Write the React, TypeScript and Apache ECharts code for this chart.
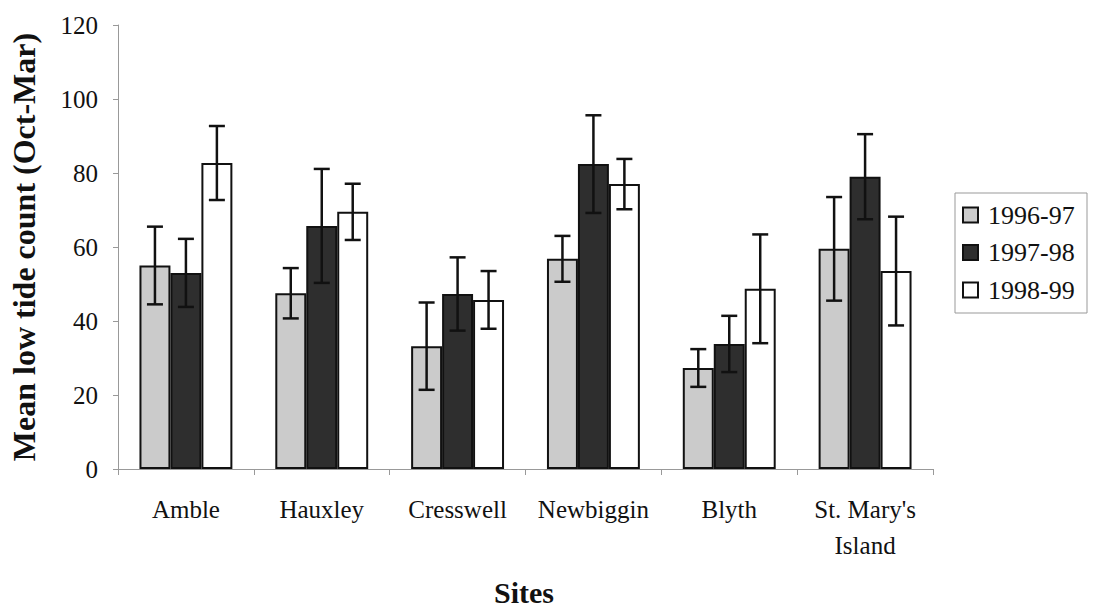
import React, { useEffect, useRef } from "react";
import * as echarts from "echarts";

const sites = ["Amble", "Hauxley", "Cresswell", "Newbiggin", "Blyth", "St. Mary's\nIsland"];
const seriesNames = ["1996-97", "1997-98", "1998-99"];
const mean9697 = [55, 47.5, 33.2, 56.8, 27.3, 59.5];
const err9697 = [10.5, 6.8, 11.8, 6.2, 5.1, 14];
const mean9798 = [53, 65.7, 47.3, 82.4, 33.8, 79];
const err9798 = [9.2, 15.4, 9.9, 13.2, 7.6, 11.5];
const mean9899 = [82.7, 69.5, 45.7, 77, 48.7, 53.5];
const err9899 = [10, 7.6, 7.8, 6.8, 14.7, 14.7];
const yTicks = { min: 0, max: 120, interval: 20 };

const FONT = '"Liberation Serif", "Times New Roman", serif';
const colors = ["#cbcbcb", "#2e2e2e", "#ffffff"];
const CAT_GAP = 0.316;

export default function App() {
  const ref = useRef<HTMLDivElement>(null);
  useEffect(() => {
    if (!ref.current) return;
    const chart = echarts.init(ref.current, undefined, { renderer: "svg" });
    const means = [mean9697, mean9798, mean9899];
    const errs = [err9697, err9798, err9899];

    const barSeries = seriesNames.map((name, s) => ({
      name,
      type: "bar",
      data: means[s],
      barGap: "0%",
      barCategoryGap: "31.6%",
      itemStyle: { color: colors[s], borderColor: "#111", borderWidth: 2 },
      emphasis: { disabled: true },
      z: 2,
    }));

    const errSeries = seriesNames.map((name, s) => ({
      name: name + " err",
      type: "custom",
      z: 5,
      data: means[s].map((m, i) => [i, m - errs[s][i], m + errs[s][i]]),
      encode: { x: 0, y: [1, 2] },
      renderItem: (params: any, api: any) => {
        const idx = api.value(0);
        const lo = api.coord([idx, api.value(1)]);
        const hi = api.coord([idx, api.value(2)]);
        const band = api.size([1, 0])[0];
        const barW = (band * (1 - CAT_GAP)) / 3;
        const x = lo[0] + (s - 1) * barW;
        const cap = 8;
        const style = { stroke: "#111", lineWidth: 2.5 };
        return {
          type: "group",
          children: [
            { type: "line", shape: { x1: x, y1: hi[1], x2: x, y2: lo[1] }, style },
            { type: "line", shape: { x1: x - cap, y1: hi[1], x2: x + cap, y2: hi[1] }, style },
            { type: "line", shape: { x1: x - cap, y1: lo[1], x2: x + cap, y2: lo[1] }, style },
          ],
        };
      },
    }));

    // legend drawn as graphic so the serif font is honoured
    const legendItems: any[] = [];
    seriesNames.forEach((name, s) => {
      const cy = 22 + s * 37.5;
      legendItems.push({
        type: "rect",
        shape: { x: 8, y: cy - 7.5, width: 15, height: 15 },
        style: { fill: colors[s], stroke: "#111", lineWidth: 2 },
      });
      legendItems.push({
        type: "text",
        x: 33,
        y: cy,
        style: {
          text: name,
          font: `26px ${FONT}`,
          fill: "#111",
          textAlign: "left",
          textVerticalAlign: "middle",
        },
      });
    });

    chart.setOption({
      animation: false,
      backgroundColor: "#ffffff",
      textStyle: { fontFamily: FONT },
      grid: { left: 118, right: 161, top: 25, bottom: 141, containLabel: false },
      xAxis: {
        type: "category",
        data: sites,
        axisLine: { lineStyle: { color: "#999", width: 1 } },
        axisTick: { show: true, length: 6, lineStyle: { color: "#999" } },
        axisLabel: {
          fontFamily: FONT,
          fontSize: 25,
          color: "#111",
          margin: 22,
          lineHeight: 36,
          interval: 0,
        },
      },
      yAxis: {
        type: "value",
        min: yTicks.min,
        max: yTicks.max,
        interval: yTicks.interval,
        splitLine: { show: false },
        axisLine: { show: true, lineStyle: { color: "#999", width: 1 } },
        axisTick: { show: true, length: 5, lineStyle: { color: "#999" } },
        axisLabel: { fontFamily: FONT, fontSize: 25, color: "#111", margin: 20 },
      },
      graphic: [
        {
          type: "text",
          x: 24,
          y: 247,
          rotation: Math.PI / 2,
          style: {
            text: "Mean low tide count (Oct-Mar)",
            font: `bold 32px ${FONT}`,
            fill: "#111",
            textAlign: "center",
            textVerticalAlign: "middle",
          },
        },
        {
          type: "text",
          x: 524,
          y: 592,
          style: {
            text: "Sites",
            font: `bold 30px ${FONT}`,
            fill: "#111",
            textAlign: "center",
            textVerticalAlign: "middle",
          },
        },
        {
          type: "group",
          x: 955,
          y: 193,
          children: [
            {
              type: "rect",
              shape: { x: 0, y: 0, width: 132, height: 120 },
              style: { fill: "#fff", stroke: "#999", lineWidth: 1 },
            },
            ...legendItems,
          ],
        },
      ],
      series: [...barSeries, ...errSeries],
    });
    return () => chart.dispose();
  }, []);
  return (
    <div
      ref={ref}
      style={{ position: "fixed", left: 0, top: 0, width: 1094, height: 610, background: "#fff" }}
    />
  );
}
